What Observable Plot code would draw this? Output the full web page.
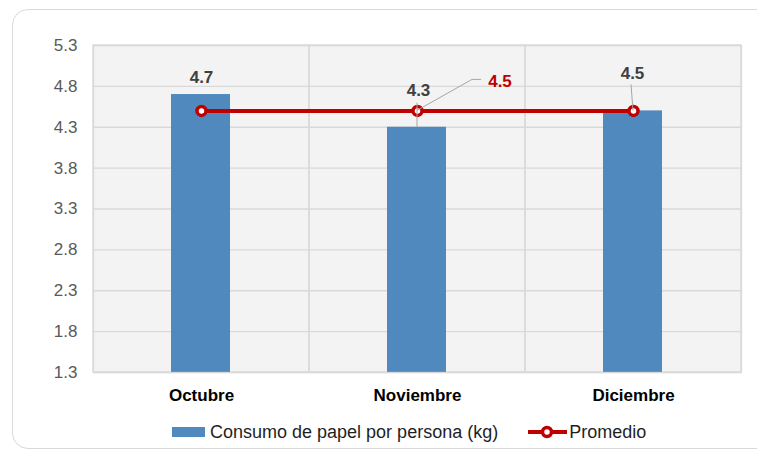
<!DOCTYPE html>
<html><head><meta charset="utf-8">
<script src="https://cdn.jsdelivr.net/npm/d3@7"></script>
<script src="https://cdn.jsdelivr.net/npm/@observablehq/plot@0.6"></script>
<style>
body{margin:0;background:#fff;font-family:"Liberation Sans",Arial,sans-serif;}
#wrap{position:relative;width:757px;height:452px;overflow:hidden;}
#border{position:absolute;left:12px;top:9px;width:775px;height:440px;border:1.5px solid #d9d9d9;border-radius:16px;box-sizing:border-box}
#chart{position:absolute;left:0;top:0}
#legend{position:absolute;left:172px;top:420px;height:24px;display:flex;align-items:center;font-size:18px;color:#1f1f1f;white-space:nowrap}
#legend .sw{display:inline-block;width:33px;height:10px;background:#4f89bd;margin-right:5px}
#legend svg{margin-left:30px;margin-right:2px}
g[aria-label^="x-axis"] text{font-weight:bold;fill:#000}
g[aria-label^="y-axis"] text{fill:#595959}
</style>
</head><body>
<div id="wrap">
  <div id="border"></div>
  <div id="chart"></div>
  <div id="legend"><span class="sw"></span><span>Consumo de papel por persona (kg)</span><svg width="39" height="14"><line x1="0" x2="39" y1="7" y2="7" stroke="#c00000" stroke-width="4"/><circle cx="19" cy="7" r="4.5" fill="#fff" stroke="#c00000" stroke-width="3.5"/></svg><span>Promedio</span></div>
</div>
<script>
const months = ["Octubre", "Noviembre", "Diciembre"];
const consumo = [4.7, 4.3, 4.5];
const promedio = [4.5, 4.5, 4.5];
const yTicks = [1.3, 1.8, 2.3, 2.8, 3.3, 3.8, 4.3, 4.8, 5.3];
const averageValue = 4.5;

// label placement (pixel offsets, layout only)
const labelOffsets = [{dx: 0, dy: -17.5}, {dx: 1, dy: -37}, {dx: -1, dy: -37.5}];

const data = months.map((m, i) => ({month: m, consumo: consumo[i], promedio: promedio[i], off: labelOffsets[i]}));

const blue = "#4f89bd", red = "#c00000", grid = "#d9d9d9";
const yMin = yTicks[0], yMax = yTicks[yTicks.length - 1];

const marks = [
  Plot.frame({fill: "#f3f3f3", stroke: null}),
  Plot.ruleY(yTicks, {stroke: grid, strokeWidth: 1.3}),
  Plot.barY(months, {x: d => d, y1: yMin, y2: yMax, fill: "none", stroke: grid, strokeWidth: 1.3}),
  Plot.barY(data, {x: "month", y1: yMin, y2: "consumo", fill: blue, insetLeft: 78, insetRight: 79}),
  Plot.line(data, {x: "month", y: "promedio", stroke: red, strokeWidth: 4}),
  Plot.dot(data, {x: "month", y: "promedio", r: 4.5, fill: "#fff", stroke: red, strokeWidth: 3.5})
];
data.forEach(d => {
  marks.push(Plot.text([d], {x: "month", y: "consumo", text: v => v.consumo.toFixed(1), dx: d.off.dx, dy: d.off.dy,
    fontWeight: "bold", fontSize: 17, fill: "#404040"}));
});
marks.push(Plot.text([{month: months[1], v: averageValue}], {x: "month", y: "v", text: d => d.v.toFixed(1), dx: 82.5, dy: -29.5,
  fontWeight: "bold", fontSize: 17, fill: red}));
marks.push(Plot.frame({stroke: grid, strokeWidth: 1.3}));

const plot = Plot.plot({
  width: 757, height: 410,
  marginLeft: 93, marginRight: 16, marginTop: 45, marginBottom: 38,
  style: {fontFamily: "Liberation Sans, Arial, sans-serif", fontSize: "17px", background: "transparent", overflow: "visible"},
  x: {domain: months, padding: 0, tickSize: 0, tickPadding: 16, label: null},
  y: {domain: [yMin, yMax], ticks: yTicks, tickSize: 0, tickPadding: 16, tickFormat: d => d.toFixed(1), label: null},
  marks
});
document.getElementById("chart").appendChild(plot);

// leader lines drawn with the plot's own scales
const sx = plot.scale("x"), sy = plot.scale("y");
const bw = sx.bandwidth ?? (sx.range[1] - sx.range[0]) / months.length;
const cx = m => sx.apply(m) + bw / 2;
const svg = d3.select(plot);
const leaders = [
  [[cx(months[1]), sy.apply(consumo[1])], [cx(months[1]), sy.apply(consumo[1]) - 24]],
  [[cx(months[1]), sy.apply(averageValue)], [cx(months[1]) + 55, sy.apply(averageValue) - 31], [cx(months[1]) + 64, sy.apply(averageValue) - 31]],
  [[cx(months[2]), sy.apply(consumo[2])], [cx(months[2]) - 2, sy.apply(consumo[2]) - 26]]
];
leaders.forEach(pts => {
  svg.append("path").attr("d", d3.line()(pts)).attr("fill", "none").attr("stroke", "#a6a6a6").attr("stroke-width", 1);
});
</script>
</body></html>
